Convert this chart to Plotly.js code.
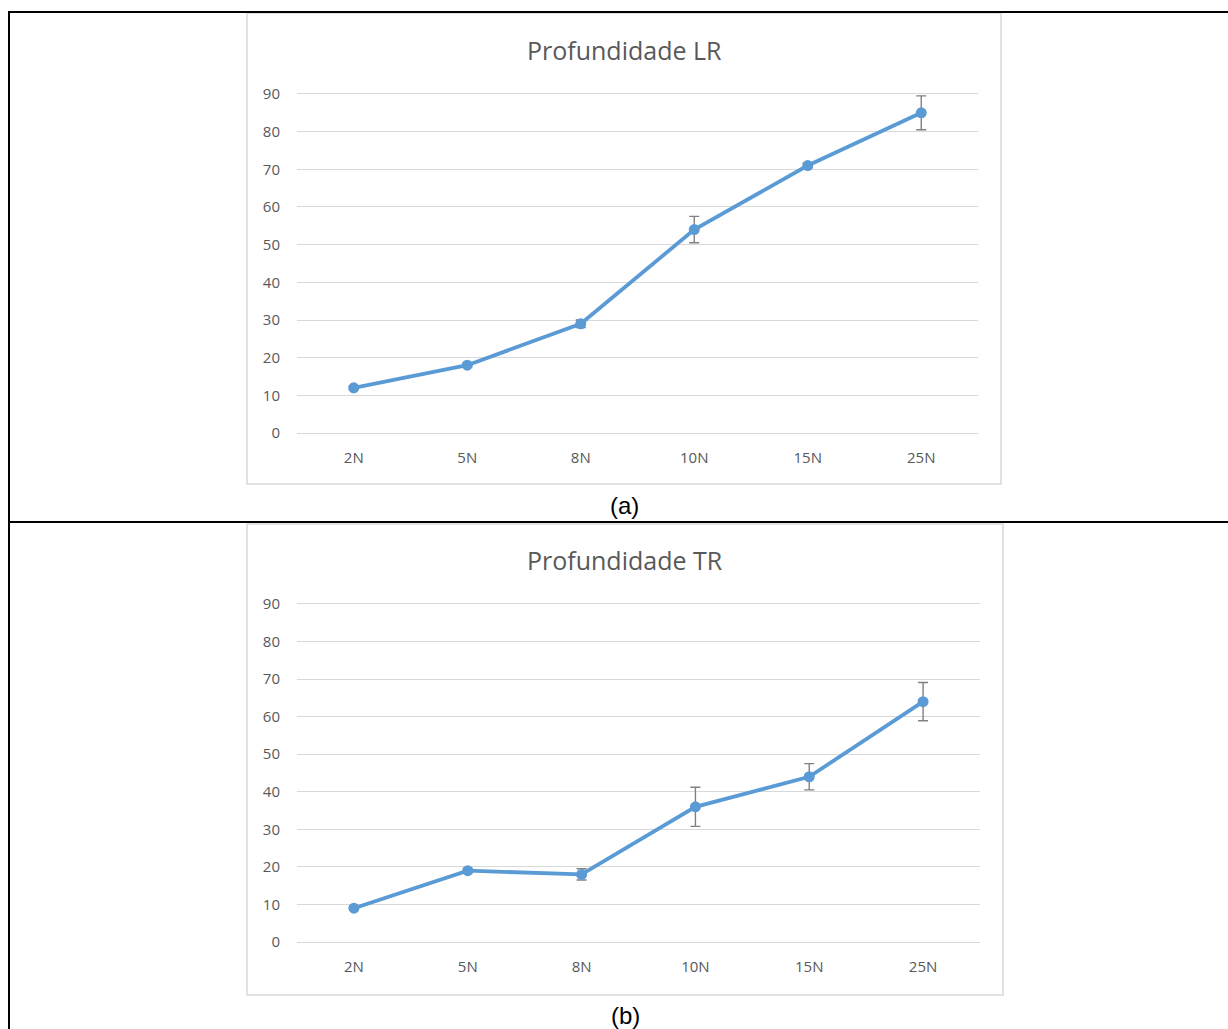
<!DOCTYPE html>
<html>
<head>
<meta charset="utf-8">
<script src="https://cdn.plot.ly/plotly-3.0.1.min.js"></script>
<style>
html,body{margin:0;padding:0;background:#fff;}
#chart{width:1228px;height:1029px;}
</style>
</head>
<body>
<div id="chart"></div>
<script>
// ---- data ----
const categories = ["2N", "5N", "8N", "10N", "15N", "25N"];
const lrValues = [12, 18, 29, 54, 71, 85];
const lrErrors = [0.4, 0.5, 1.0, 3.5, 0.6, 4.5];
const trValues = [9, 19, 18, 36, 44, 64];
const trErrors = [0.5, 0.6, 1.5, 5.2, 3.5, 5.1];
const yTicks = [0, 10, 20, 30, 40, 50, 60, 70, 80, 90];
const titleA = "Profundidade LR";
const titleB = "Profundidade TR";
const labelA = "(a)";
const labelB = "(b)";

// ---- layout helpers (pixel -> paper) ----
const W = 1228, H = 1029;
const px = x => x / W;
const py = y => 1 - y / H;

const lineColor = "#5B9BD5";
const errColor = "#808080";
const gridColor = "#D9D9D9";
const textColor = "#595959";
const fontFam = "'Open Sans', 'Noto Sans', sans-serif";

function series(y, err, xa, ya) {
  return {
    type: "scatter", mode: "lines+markers",
    x: categories, y: y,
    xaxis: xa, yaxis: ya,
    line: {color: lineColor, width: 3.8},
    marker: {color: lineColor, size: 11},
    error_y: {type: "data", array: err, visible: true, color: errColor, thickness: 1.4, width: 5},
    hoverinfo: "x+y", showlegend: false
  };
}

const xCommon = {
  type: "category", categoryorder: "array", categoryarray: categories,
  range: [-0.5, 5.5], showgrid: false, zeroline: false, showline: false,
  ticks: "outside", ticklen: 7, tickcolor: "rgba(0,0,0,0)",
  tickfont: {family: fontFam, size: 15, color: textColor}, fixedrange: true
};
const yCommon = {
  range: [-1, 91], tickvals: yTicks, showgrid: true, gridcolor: gridColor, gridwidth: 1,
  zeroline: false, showline: false,
  ticks: "outside", ticklen: 13, tickcolor: "rgba(0,0,0,0)",
  tickfont: {family: fontFam, size: 15, color: textColor}, fixedrange: true
};

const layout = {
  width: W, height: H,
  margin: {l: 0, r: 0, t: 0, b: 0},
  paper_bgcolor: "#ffffff", plot_bgcolor: "rgba(0,0,0,0)",
  xaxis: Object.assign({}, xCommon, {domain: [px(297), px(978)], anchor: "y"}),
  yaxis: Object.assign({}, yCommon, {domain: [py(436.8), py(90.2)], anchor: "x"}),
  xaxis2: Object.assign({}, xCommon, {domain: [px(297), px(980)], anchor: "y2"}),
  yaxis2: Object.assign({}, yCommon, {domain: [py(945.8), py(600.2)], anchor: "x2"}),
  shapes: [
    // chart boxes
    {type: "rect", xref: "paper", yref: "paper", x0: px(247), x1: px(1001), y0: py(484), y1: py(13),
     line: {color: gridColor, width: 1.5}, layer: "below"},
    {type: "rect", xref: "paper", yref: "paper", x0: px(247), x1: px(1003), y0: py(995), y1: py(524),
     line: {color: gridColor, width: 1.5}, layer: "below"},
    // outer table frame
    {type: "line", xref: "paper", yref: "paper", x0: px(8), x1: 1.01, y0: py(12), y1: py(12), line: {color: "#000", width: 2}},
    {type: "line", xref: "paper", yref: "paper", x0: px(9), x1: px(9), y0: py(11), y1: -0.01, line: {color: "#000", width: 2}},
    {type: "line", xref: "paper", yref: "paper", x0: px(8), x1: 1.01, y0: py(522), y1: py(522), line: {color: "#000", width: 2}}
  ],
  annotations: [
    {text: titleA, xref: "paper", yref: "paper", x: px(624), y: py(50), xanchor: "center", yanchor: "middle",
     showarrow: false, font: {family: fontFam, size: 25, color: textColor}},
    {text: titleB, xref: "paper", yref: "paper", x: px(625), y: py(560), xanchor: "center", yanchor: "middle",
     showarrow: false, font: {family: fontFam, size: 25, color: textColor}},
    {text: labelA, xref: "paper", yref: "paper", x: px(624), y: py(506), xanchor: "center", yanchor: "middle",
     showarrow: false, font: {family: "Liberation Sans, Arial, sans-serif", size: 24, color: "#000"}},
    {text: labelB, xref: "paper", yref: "paper", x: px(625), y: py(1015), xanchor: "center", yanchor: "middle",
     showarrow: false, font: {family: "Liberation Sans, Arial, sans-serif", size: 24, color: "#000"}}
  ]
};

Plotly.newPlot("chart", [
  series(lrValues, lrErrors, "x", "y"),
  series(trValues, trErrors, "x2", "y2")
], layout, {displayModeBar: false, staticPlot: true});
</script>
</body>
</html>
